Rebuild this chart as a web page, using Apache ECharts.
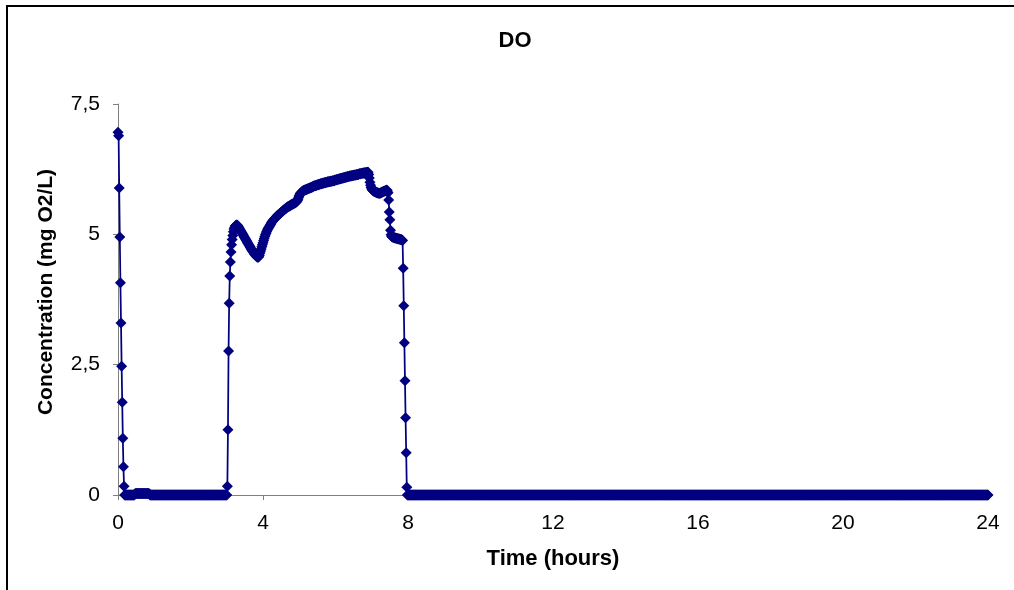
<!DOCTYPE html>
<html>
<head>
<meta charset="utf-8">
<title>DO</title>
<script src="https://cdn.jsdelivr.net/npm/echarts@6/dist/echarts.min.js"></script>
<style>
  html, body { margin: 0; padding: 0; background: #ffffff; }
  #chart { width: 1014px; height: 590px; }
</style>
</head>
<body>
<div id="chart"></div>
<script>
// Dissolved oxygen log, one reading per minute over a 24 h cycle.
const minutesPerHour = 60;

// 0:00 - 2:59, end of aeration then anoxic phase (mg O2/L)
const doStartAnoxic = [
  6.96, 6.89, 5.89, 4.95, 4.07, 3.30, 2.47, 1.78, 1.09, 0.54,
  0.17, 0, 0, 0, 0, 0, 0, 0, 0, 0,
  0, 0, 0, 0, 0, 0, 0, 0, 0.02, 0.03,
  0.03, 0.03, 0.03, 0.03, 0.03, 0.03, 0.03, 0.03, 0.03, 0.03,
  0.03, 0.03, 0.03, 0.03, 0.03, 0.03, 0.03, 0.03, 0.03, 0.03,
  0.03, 0.03, 0.02, 0, 0, 0, 0, 0, 0, 0,
  0,0,0,0,0,0,0,0,0,0, 0,0,0,0,0,0,0,0,0,0, 0,0,0,0,0,0,0,0,0,0, 0,0,0,0,0,0,0,0,0,0, 0,0,0,0,0,0,0,0,0,0, 0,0,0,0,0,0,0,0,0,0,
  0,0,0,0,0,0,0,0,0,0, 0,0,0,0,0,0,0,0,0,0, 0,0,0,0,0,0,0,0,0,0, 0,0,0,0,0,0,0,0,0,0, 0,0,0,0,0,0,0,0,0,0, 0,0,0,0,0,0,0,0,0,0
];

// 3:00 - 7:59, aerated phase
const doAerated = [
  0, 0.17, 1.25, 2.76, 3.68, 4.20, 4.47, 4.66, 4.80, 4.90,
  4.98, 5.05, 5.10, 5.13, 5.16, 5.17, 5.18, 5.18, 5.17, 5.15,
  5.13, 5.11, 5.09, 5.07, 5.05, 5.03, 5.01, 4.99, 4.97, 4.95,
  4.93, 4.91, 4.89, 4.87, 4.85, 4.83, 4.81, 4.79, 4.77, 4.75,
  4.73, 4.71, 4.69, 4.67, 4.66, 4.64, 4.62, 4.61, 4.59, 4.58,
  4.57, 4.56, 4.56, 4.57, 4.60, 4.64, 4.68, 4.72, 4.76, 4.80,
  4.84, 4.88, 4.92, 4.96, 4.99, 5.02, 5.05, 5.08, 5.10, 5.12,
  5.14, 5.16, 5.18, 5.20, 5.22, 5.24, 5.25, 5.27, 5.28, 5.30,
  5.31, 5.32, 5.33, 5.35, 5.36, 5.37, 5.38, 5.39, 5.40, 5.41,
  5.42, 5.43, 5.44, 5.45, 5.46, 5.47, 5.48, 5.49, 5.50, 5.51,
  5.52, 5.53, 5.53, 5.54, 5.55, 5.55, 5.56, 5.57, 5.57, 5.58,
  5.58, 5.59, 5.60, 5.60, 5.61, 5.62, 5.63, 5.65, 5.68, 5.71,
  5.74, 5.77, 5.79, 5.80, 5.81, 5.82, 5.83, 5.84, 5.84, 5.85,
  5.85, 5.86, 5.86, 5.87, 5.87, 5.88, 5.88, 5.89, 5.89, 5.90,
  5.90, 5.91, 5.91, 5.92, 5.92, 5.93, 5.93, 5.93, 5.94, 5.94,
  5.95, 5.95, 5.95, 5.96, 5.96, 5.97, 5.97, 5.97, 5.98, 5.98,
  5.98, 5.99, 5.99, 5.99, 6.00, 6.00, 6.00, 6.01, 6.01, 6.01,
  6.01, 6.02, 6.02, 6.02, 6.02, 6.03, 6.03, 6.03, 6.03, 6.04,
  6.04, 6.04, 6.05, 6.05, 6.05, 6.06, 6.06, 6.06, 6.07, 6.07,
  6.07, 6.08, 6.08, 6.08, 6.09, 6.09, 6.09, 6.10, 6.10, 6.10,
  6.11, 6.11, 6.11, 6.12, 6.12, 6.12, 6.12, 6.13, 6.13, 6.13,
  6.13, 6.14, 6.14, 6.14, 6.14, 6.15, 6.15, 6.15, 6.15, 6.16,
  6.16, 6.16, 6.16, 6.17, 6.17, 6.17, 6.17, 6.18, 6.18, 6.18,
  6.18, 6.18, 6.19, 6.19, 6.19, 6.15, 6.08, 6.00, 5.94, 5.90,
  5.87, 5.85, 5.84, 5.83, 5.82, 5.82, 5.81, 5.81, 5.80, 5.80,
  5.80, 5.79, 5.79, 5.79, 5.79, 5.80, 5.80, 5.81, 5.81, 5.82,
  5.82, 5.83, 5.83, 5.84, 5.84, 5.85, 5.83, 5.80, 5.66, 5.43,
  5.28, 5.08, 4.99, 4.96, 4.95, 4.95, 4.94, 4.94, 4.93, 4.93,
  4.93, 4.92, 4.92, 4.92, 4.91, 4.91, 4.91, 4.90, 4.90, 4.90,
  4.89, 4.88, 4.35, 3.63, 2.92, 2.19, 1.48, 0.81, 0.15, 0
];

// 8:00 - 24:00, anoxic phase (one row per hour)
const doEndAnoxic = [
  0,0,0,0,0,0,0,0,0,0, 0,0,0,0,0,0,0,0,0,0, 0,0,0,0,0,0,0,0,0,0, 0,0,0,0,0,0,0,0,0,0, 0,0,0,0,0,0,0,0,0,0, 0,0,0,0,0,0,0,0,0,0,
  0,0,0,0,0,0,0,0,0,0, 0,0,0,0,0,0,0,0,0,0, 0,0,0,0,0,0,0,0,0,0, 0,0,0,0,0,0,0,0,0,0, 0,0,0,0,0,0,0,0,0,0, 0,0,0,0,0,0,0,0,0,0,
  0,0,0,0,0,0,0,0,0,0, 0,0,0,0,0,0,0,0,0,0, 0,0,0,0,0,0,0,0,0,0, 0,0,0,0,0,0,0,0,0,0, 0,0,0,0,0,0,0,0,0,0, 0,0,0,0,0,0,0,0,0,0,
  0,0,0,0,0,0,0,0,0,0, 0,0,0,0,0,0,0,0,0,0, 0,0,0,0,0,0,0,0,0,0, 0,0,0,0,0,0,0,0,0,0, 0,0,0,0,0,0,0,0,0,0, 0,0,0,0,0,0,0,0,0,0,
  0,0,0,0,0,0,0,0,0,0, 0,0,0,0,0,0,0,0,0,0, 0,0,0,0,0,0,0,0,0,0, 0,0,0,0,0,0,0,0,0,0, 0,0,0,0,0,0,0,0,0,0, 0,0,0,0,0,0,0,0,0,0,
  0,0,0,0,0,0,0,0,0,0, 0,0,0,0,0,0,0,0,0,0, 0,0,0,0,0,0,0,0,0,0, 0,0,0,0,0,0,0,0,0,0, 0,0,0,0,0,0,0,0,0,0, 0,0,0,0,0,0,0,0,0,0,
  0,0,0,0,0,0,0,0,0,0, 0,0,0,0,0,0,0,0,0,0, 0,0,0,0,0,0,0,0,0,0, 0,0,0,0,0,0,0,0,0,0, 0,0,0,0,0,0,0,0,0,0, 0,0,0,0,0,0,0,0,0,0,
  0,0,0,0,0,0,0,0,0,0, 0,0,0,0,0,0,0,0,0,0, 0,0,0,0,0,0,0,0,0,0, 0,0,0,0,0,0,0,0,0,0, 0,0,0,0,0,0,0,0,0,0, 0,0,0,0,0,0,0,0,0,0,
  0,0,0,0,0,0,0,0,0,0, 0,0,0,0,0,0,0,0,0,0, 0,0,0,0,0,0,0,0,0,0, 0,0,0,0,0,0,0,0,0,0, 0,0,0,0,0,0,0,0,0,0, 0,0,0,0,0,0,0,0,0,0,
  0,0,0,0,0,0,0,0,0,0, 0,0,0,0,0,0,0,0,0,0, 0,0,0,0,0,0,0,0,0,0, 0,0,0,0,0,0,0,0,0,0, 0,0,0,0,0,0,0,0,0,0, 0,0,0,0,0,0,0,0,0,0,
  0,0,0,0,0,0,0,0,0,0, 0,0,0,0,0,0,0,0,0,0, 0,0,0,0,0,0,0,0,0,0, 0,0,0,0,0,0,0,0,0,0, 0,0,0,0,0,0,0,0,0,0, 0,0,0,0,0,0,0,0,0,0,
  0,0,0,0,0,0,0,0,0,0, 0,0,0,0,0,0,0,0,0,0, 0,0,0,0,0,0,0,0,0,0, 0,0,0,0,0,0,0,0,0,0, 0,0,0,0,0,0,0,0,0,0, 0,0,0,0,0,0,0,0,0,0,
  0,0,0,0,0,0,0,0,0,0, 0,0,0,0,0,0,0,0,0,0, 0,0,0,0,0,0,0,0,0,0, 0,0,0,0,0,0,0,0,0,0, 0,0,0,0,0,0,0,0,0,0, 0,0,0,0,0,0,0,0,0,0,
  0,0,0,0,0,0,0,0,0,0, 0,0,0,0,0,0,0,0,0,0, 0,0,0,0,0,0,0,0,0,0, 0,0,0,0,0,0,0,0,0,0, 0,0,0,0,0,0,0,0,0,0, 0,0,0,0,0,0,0,0,0,0,
  0,0,0,0,0,0,0,0,0,0, 0,0,0,0,0,0,0,0,0,0, 0,0,0,0,0,0,0,0,0,0, 0,0,0,0,0,0,0,0,0,0, 0,0,0,0,0,0,0,0,0,0, 0,0,0,0,0,0,0,0,0,0,
  0,0,0,0,0,0,0,0,0,0, 0,0,0,0,0,0,0,0,0,0, 0,0,0,0,0,0,0,0,0,0, 0,0,0,0,0,0,0,0,0,0, 0,0,0,0,0,0,0,0,0,0, 0,0,0,0,0,0,0,0,0,0,
  0
];

// Axis ticks
const xTicks = [0, 4, 8, 12, 16, 20, 24];
const yTicks = [0, 2.5, 5, 7.5];

const titleText = 'DO';
const xName = 'Time (hours)';
const yName = 'Concentration (mg O2/L)';

const doValues = [].concat(doStartAnoxic, doAerated, doEndAnoxic);
const seriesData = doValues.map((v, i) => [i / minutesPerHour, v]);

const navy = '#000080';
const fontFamily = 'Liberation Sans, Arial, sans-serif';

const chart = echarts.init(document.getElementById('chart'), null, { renderer: 'canvas' });

chart.setOption({
  animation: false,
  backgroundColor: '#ffffff',
  title: {
    text: titleText,
    left: 510,
    top: 25,
    textAlign: 'center',
    textStyle: { fontFamily, fontSize: 22, fontWeight: 'bold', color: '#000000' }
  },
  graphic: [
    {
      // chart frame
      type: 'rect',
      shape: { x: 7, y: 6, width: 1200, height: 800 },
      style: { fill: null, stroke: '#000000', lineWidth: 2 },
      silent: true,
      z: 100
    },
    {
      // vertical axis title
      type: 'text',
      x: 46,
      y: 292,
      rotation: Math.PI / 2,
      style: {
        text: yName,
        fontFamily,
        fontSize: 21,
        fontWeight: 'bold',
        fill: '#000000',
        align: 'center',
        verticalAlign: 'middle'
      },
      silent: true
    }
  ],
  grid: { left: 118, right: 26, top: 104, bottom: 95, containLabel: false },
  xAxis: {
    type: 'value',
    min: xTicks[0],
    max: xTicks[xTicks.length - 1],
    interval: xTicks[1] - xTicks[0],
    name: xName,
    nameLocation: 'middle',
    nameGap: 53,
    nameTextStyle: { fontFamily, fontSize: 22, fontWeight: 'bold', color: '#000000' },
    axisLine: { onZero: false, lineStyle: { color: '#808080', width: 1 } },
    axisTick: { show: true, inside: false, length: 5, lineStyle: { color: '#808080' } },
    axisLabel: { fontFamily, fontSize: 21, color: '#000000', margin: 18 },
    splitLine: { show: false }
  },
  yAxis: {
    type: 'value',
    min: yTicks[0],
    max: yTicks[yTicks.length - 1],
    interval: yTicks[1] - yTicks[0],
    axisLine: { show: true, lineStyle: { color: '#808080', width: 1 } },
    axisTick: { show: true, inside: false, length: 5, lineStyle: { color: '#808080' } },
    axisLabel: {
      fontFamily, fontSize: 21, color: '#000000', margin: 18,
      formatter: v => String(v).replace('.', ',')
    },
    splitLine: { show: false }
  },
  series: [{
    name: 'DO',
    type: 'line',
    data: seriesData,
    showSymbol: true,
    symbol: 'diamond',
    symbolSize: 11,
    itemStyle: { color: navy, borderWidth: 0 },
    lineStyle: { color: navy, width: 1.75 },
    clip: false
  }]
});
</script>
</body>
</html>
